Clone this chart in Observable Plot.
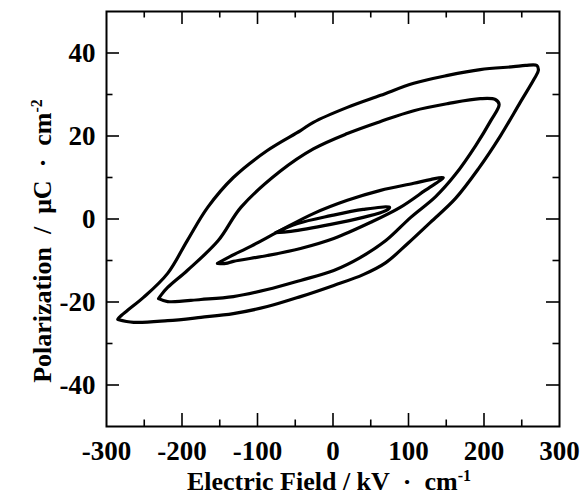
<!DOCTYPE html>
<html>
<head>
<meta charset="utf-8">
<script src="https://cdn.jsdelivr.net/npm/d3@7"></script>
<script src="https://cdn.jsdelivr.net/npm/@observablehq/plot@0.6"></script>
<style>
  body { margin: 0; background: #fff; }
</style>
</head>
<body>
<div id="chart"></div>
<script>
// P–E hysteresis loops measured at four field amplitudes.
// Each loop runs along the rising-field branch, then back along the falling branch.
const loopAField = [-285, -264, -219, -175, -132, -87, -43, 1, 40, 70, 99, 129, 162, 193, 222, 248, 266, 272, 270, 255, 239, 195, 152, 107, 63, 19, -26, -43, -87, -132, -166, -193, -219, -251, -272, -283, -285];
const loopAPol   = [-24.2, -24.9, -24.5, -23.7, -22.8, -21.1, -18.7, -16.0, -13.4, -10.5, -5.9, -0.8, 4.9, 12.2, 20.1, 28.1, 33.6, 35.8, 37.0, 37.0, 36.7, 36.0, 34.6, 32.7, 29.8, 26.9, 23.3, 21.3, 16.5, 10.0, 2.8, -5.2, -13.1, -18.9, -22.0, -23.7, -24.2];

const loopBField = [-231, -219, -175, -132, -87, -43, 1, 36, 70, 103, 136, 162, 189, 209, 220, 215, 195, 152, 107, 63, 19, -26, -70, -122, -152, -193, -219, -228, -231];
const loopBPol   = [-19.2, -19.9, -19.4, -18.7, -17.0, -14.8, -12.4, -9.3, -5.2, 0.4, 5.4, 10.7, 17.7, 23.7, 27.6, 28.8, 29.0, 27.8, 26.1, 23.5, 20.6, 16.9, 11.5, 2.8, -5.2, -12.4, -16.5, -18.4, -19.2];

const loopCField = [-153, -142, -132, -87, -43, 1, 50, 89, 122, 146, 129, 107, 63, 19, -26, -70, -109, -136, -153];
const loopCPol   = [-10.7, -10.7, -10.2, -8.8, -7.1, -4.7, -0.8, 2.8, 6.9, 10.0, 9.5, 8.6, 6.9, 4.5, 1.3, -2.8, -6.6, -9.0, -10.7];

const loopDField = [-76, -56, -3, 40, 70, 75, 40, -3, -47, -76];
const loopDPol   = [-3.3, -3.0, -1.3, 0.4, 2.0, 2.8, 2.3, 0.8, -1.1, -3.3];

// Axis ticks and labels
const xLabels = [-300, -200, -100, 0, 100, 200, 300];
const xMajor = [-200, -100, 0, 100, 200];
const xMinor = [-250, -150, -50, 50, 150, 250];
const yLabels = [-40, -20, 0, 20, 40];
const yMajor = [-40, -20, 0, 20, 40];
const yMinor = [-30, -10, 10, 30];
const xDomain = [-300, 300];
const yDomain = [-50, 50];

const xTitle = "Electric Field / kV\u2002·\u2002cm";
const xTitleSup = "-1";
const yTitle = "Polarization\u2002/\u2002μC\u2002·\u2002cm";
const yTitleSup = "-2";

const loops = [
  ["A", loopAField, loopAPol],
  ["B", loopBField, loopBPol],
  ["C", loopCField, loopCPol],
  ["D", loopDField, loopDPol]
];
const rows = loops.flatMap(([name, E, P]) => E.map((e, i) => ({loop: name, E: e, P: P[i]})));

const W = 586, H = 497;
const mL = 106, mR = 27, mT = 11, mB = 71;
// data units per pixel, used to express tick lengths in pixels
const ux = (xDomain[1] - xDomain[0]) / (W - mL - mR);
const uy = (yDomain[1] - yDomain[0]) / (H - mT - mB);
const majorLen = 13, minorLen = 6.5;

function xTicks(values, len) {
  return [
    Plot.ruleX(values, {x: d => d, y1: yDomain[0], y2: yDomain[0] + len * uy, stroke: "black", strokeWidth: 1.6}),
    Plot.ruleX(values, {x: d => d, y1: yDomain[1], y2: yDomain[1] - len * uy, stroke: "black", strokeWidth: 1.6})
  ];
}
function yTicks(values, len) {
  return [
    Plot.ruleY(values, {y: d => d, x1: xDomain[0], x2: xDomain[0] + len * ux, stroke: "black", strokeWidth: 1.6}),
    Plot.ruleY(values, {y: d => d, x1: xDomain[1], x2: xDomain[1] - len * ux, stroke: "black", strokeWidth: 1.6})
  ];
}

const font = "'Liberation Serif', 'Times New Roman', Times, serif";

const chart = Plot.plot({
  width: W,
  height: H,
  marginLeft: mL,
  marginRight: mR,
  marginTop: mT,
  marginBottom: mB,
  x: {domain: xDomain},
  y: {domain: yDomain},
  style: {fontFamily: font, fontWeight: "bold", fontSize: "27px", color: "black", background: "white", overflow: "visible"},
  marks: [
    Plot.axisX(xLabels, {anchor: "bottom", tickSize: 0, tickPadding: 14, tickFormat: d => String(d), label: null, fontSize: 27, fontWeight: "bold"}),
    Plot.axisY(yLabels, {anchor: "left", tickSize: 0, tickPadding: 11, tickFormat: d => String(d), label: null, fontSize: 27, fontWeight: "bold"}),
    ...xTicks(xMajor, majorLen),
    ...xTicks(xMinor, minorLen),
    ...yTicks(yMajor, majorLen),
    ...yTicks(yMinor, minorLen),
    Plot.frame({stroke: "black", strokeWidth: 2}),
    Plot.line(rows, {x: "E", y: "P", z: "loop", stroke: "black", strokeWidth: 3.2, curve: "catmull-rom", strokeLinejoin: "round", strokeLinecap: "round"}),
    Plot.text([xTitle], {text: d => d, frameAnchor: "bottom", textAnchor: "middle", lineAnchor: "middle", dx: -4, dy: 55, fontSize: 26, fontWeight: "bold", fill: "black"}),
    Plot.text([yTitle], {text: d => d, frameAnchor: "left", textAnchor: "middle", lineAnchor: "middle", rotate: -90, dx: -64, dy: 22, fontSize: 26, fontWeight: "bold", fill: "black"})
  ]
});

// superscript exponents on the unit labels
const ns = "http://www.w3.org/2000/svg";
chart.querySelectorAll("text").forEach(t => {
  const s = t.textContent;
  const sup = s === xTitle ? xTitleSup : s === yTitle ? yTitleSup : null;
  if (!sup) return;
  const ts = document.createElementNS(ns, "tspan");
  ts.setAttribute("dy", "-0.55em");
  ts.setAttribute("font-size", "16");
  ts.textContent = sup;
  t.appendChild(ts);
});

document.getElementById("chart").appendChild(chart);
</script>
</body>
</html>
